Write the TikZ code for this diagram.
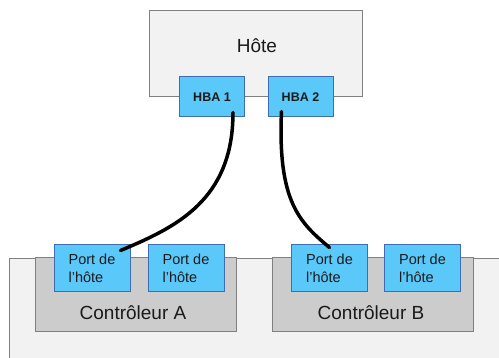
\documentclass[tikz,border=0pt]{standalone}
\usepackage{fontspec}
\setmainfont{Liberation Sans}
\usetikzlibrary{positioning}
\definecolor{ink}{HTML}{1A1A1A}
\definecolor{portblue}{HTML}{5BC8FA}
\definecolor{portedge}{HTML}{3E6DB0}
\definecolor{hostbg}{HTML}{F2F2F2}
\definecolor{frame}{HTML}{808080}
\definecolor{ctrlbg}{HTML}{CCCCCC}
\tikzset{
  every node/.style={text=ink},
  box/.style={draw=frame, line width=1pt, inner sep=0pt},
  hostbox/.style={box, fill=hostbg, minimum width=213pt, minimum height=86pt},
  ctrlbox/.style={box, fill=ctrlbg, minimum width=201pt, minimum height=74pt},
  port/.style={
    draw=portedge,
    fill=portblue,
    line width=1pt,
    minimum width=76pt,
    minimum height=47pt,
    inner sep=0pt,
    align=left,
    font=\fontsize{14.5}{18}\selectfont
  },
  hba/.style={port, minimum width=65pt, minimum height=40pt, font=\fontsize{12.5}{15}\selectfont\bfseries},
  title/.style={font=\fontsize{19}{23}\selectfont, anchor=base},
  cable/.style={line width=3.5pt, draw=black, line cap=round}
}

\begin{document}
\begin{tikzpicture}[x=1pt, y=-1pt]
  \clip (0,0) rectangle (499,358);
  % storage array (runs off the page)
  \node[box, fill=hostbg, minimum width=511pt, minimum height=120pt, anchor=north west] (array) at (9,258) {};

  % host and its HBAs
  \node[hostbox] (host) at (255.5,54) {};
  \node[title] (hostname) at (257,53) {Hôte};
  \node[hba] (hba1) at (212,97) {HBA 1};
  \node[hba] (hba2) at (300.5,97) {HBA 2};

  % controllers
  \node[ctrlbox] (ctrlA) at (135.5,295) {};
  \node[ctrlbox] (ctrlB) at (372.5,295) {};
  \node[title] (nameA) at (133,320) {Contrôleur A};
  \node[title] (nameB) at (371,320) {Contrôleur B};

  \node[port] (portA1) at (92,268.5) {Port de\\l'hôte};
  \node[port] (portA2) at (186,268.5) {Port de\\l'hôte};
  \node[port] (portB1) at (329.5,268.5) {Port de\\l'hôte};
  \node[port] (portB2) at (422.5,268.5) {Port de\\l'hôte};

  % cables
  \draw[cable] ([xshift=-12pt,yshift=5pt]hba1.south east)
    .. controls +(0,88) and +(55,-23) .. ([xshift=-10pt,yshift=-6pt]portA1.north east);
  \draw[cable] ([xshift=14pt,yshift=6pt]hba2.south west)
    .. controls +(-4,90) and +(-30,-25) .. ([yshift=-3pt]portB1.north);
\end{tikzpicture}
\end{document}
